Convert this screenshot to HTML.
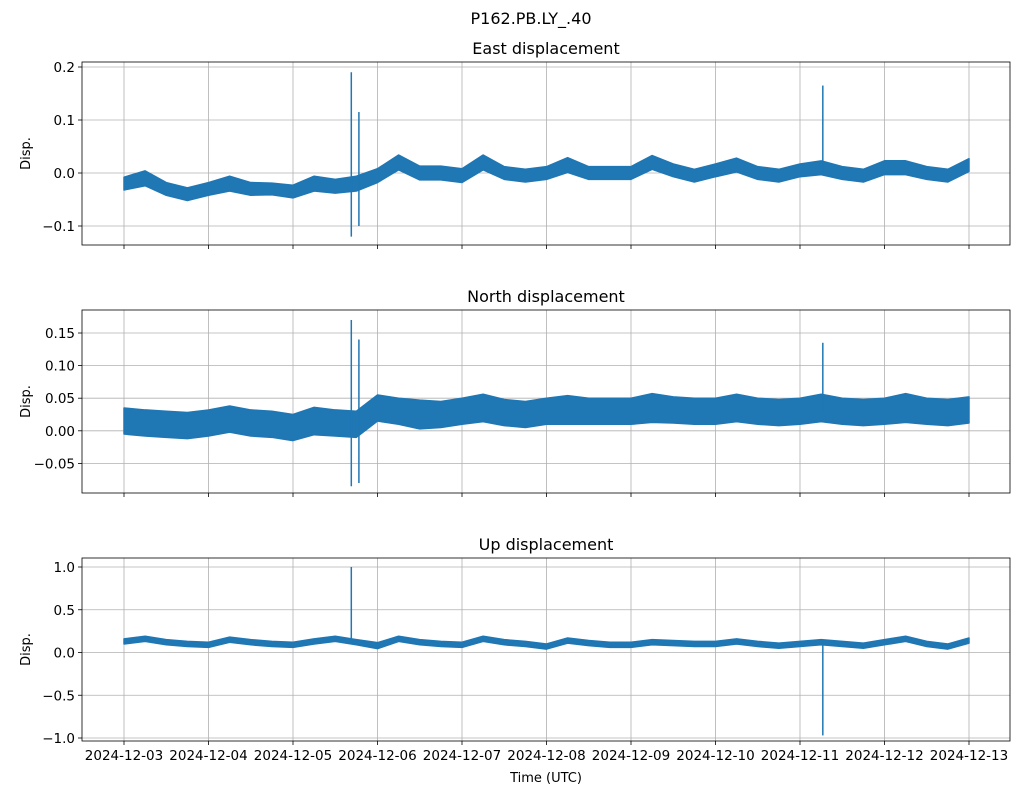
<!DOCTYPE html>
<html><head><meta charset="utf-8"><style>
body{margin:0;background:#fff;}
svg text{font-family:"DejaVu Sans","Liberation Sans",sans-serif;fill:#000;}
</style></head><body>
<svg id="fig" width="1021" height="795" viewBox="0 0 1021 795" xmlns="http://www.w3.org/2000/svg">
<rect width="1021" height="795" fill="#fff"/>
<text x="531" y="24" font-size="16" text-anchor="middle">P162.PB.LY_.40</text>
</svg>
<script>
// day offsets from 2024-12-03, step 0.25
const xTickLabels=["2024-12-03","2024-12-04","2024-12-05","2024-12-06","2024-12-07","2024-12-08","2024-12-09","2024-12-10","2024-12-11","2024-12-12","2024-12-13"];
const eastCenter=[-0.02,-0.01,-0.03,-0.04,-0.03,-0.02,-0.03,-0.03,-0.035,-0.02,-0.025,-0.02,-0.005,0.02,0.0,0.0,-0.005,0.02,0.0,-0.005,0.0,0.015,0.0,0.0,0.0,0.02,0.005,-0.005,0.005,0.015,0.0,-0.005,0.005,0.01,0.0,-0.005,0.01,0.01,0.0,-0.005,0.015];
const eastHalf=[0.012,0.014,0.012,0.012,0.012,0.014,0.012,0.011,0.012,0.014,0.013,0.014,0.013,0.014,0.013,0.013,0.013,0.014,0.012,0.012,0.012,0.014,0.012,0.012,0.012,0.013,0.012,0.012,0.012,0.013,0.012,0.012,0.012,0.013,0.012,0.012,0.013,0.013,0.012,0.012,0.012];
const eastSpikes=[[2.69,0.19,-0.12],[2.78,0.115,-0.10],[8.27,0.165,0.0]];
const northCenter=[0.015,0.012,0.01,0.008,0.012,0.018,0.012,0.01,0.005,0.015,0.012,0.01,0.035,0.03,0.025,0.025,0.03,0.035,0.028,0.025,0.03,0.032,0.03,0.03,0.03,0.035,0.032,0.03,0.03,0.035,0.03,0.028,0.03,0.035,0.03,0.028,0.03,0.035,0.03,0.028,0.032];
const northHalf=[0.02,0.02,0.02,0.02,0.02,0.02,0.02,0.02,0.02,0.021,0.02,0.02,0.02,0.02,0.022,0.02,0.02,0.021,0.02,0.02,0.02,0.022,0.02,0.02,0.02,0.022,0.02,0.02,0.02,0.021,0.02,0.02,0.02,0.021,0.02,0.02,0.02,0.022,0.02,0.02,0.02];
const northSpikes=[[2.69,0.17,-0.085],[2.78,0.14,-0.08],[8.27,0.135,0.03]];
const upCenter=[0.13,0.16,0.12,0.1,0.09,0.15,0.12,0.1,0.09,0.13,0.16,0.12,0.08,0.16,0.12,0.1,0.09,0.16,0.12,0.1,0.07,0.14,0.11,0.09,0.09,0.12,0.11,0.1,0.1,0.13,0.1,0.08,0.1,0.12,0.1,0.08,0.12,0.16,0.1,0.07,0.14];
const upHalf=[0.03,0.03,0.03,0.03,0.03,0.03,0.03,0.03,0.03,0.03,0.03,0.03,0.035,0.03,0.03,0.03,0.03,0.03,0.03,0.03,0.03,0.03,0.03,0.03,0.03,0.03,0.03,0.03,0.03,0.03,0.03,0.03,0.03,0.03,0.03,0.03,0.03,0.03,0.03,0.03,0.03];
const upSpikes=[[2.69,1.0,0.1],[8.27,0.1,-0.97]];
const eastTicks=[0.2,0.1,0.0,-0.1], eastTickLabels=["0.2","0.1","0.0","\u22120.1"];
const northTicks=[0.15,0.1,0.05,0,-0.05], northTickLabels=["0.15","0.10","0.05","0.00","\u22120.05"];
const upTicks=[1,0.5,0,-0.5,-1], upTickLabels=["1.0","0.5","0.0","\u22120.5","\u22121.0"];

const svg=document.getElementById('fig');
const NS='http://www.w3.org/2000/svg';
function mk(tag,attrs,parent){const e=document.createElementNS(NS,tag);for(const k in attrs)e.setAttribute(k,attrs[k]);(parent||svg).appendChild(e);return e;}
const X0=124,DAY=84.5,L=82,R=1010;
const xs=d=>X0+d*DAY;
function panel(name,title,top,yTop,yTopVal,yPerUnit,center,half,spikes,ticks,tickLabels,showX){
  const bot=top+183;
  const ys=v=>yTop+(yTopVal-v)*yPerUnit;
  const g=mk('g',{});
  
  
  const t=mk('text',{x:(L+R)/2,y:top-8,'font-size':16,'text-anchor':'middle'},g);t.textContent=title;
  
  xTickLabels.forEach((lab,i)=>{
    mk('line',{x1:xs(i),x2:xs(i),y1:top,y2:bot,stroke:'#b0b0b0','stroke-width':0.8},g);
    mk('line',{x1:xs(i),x2:xs(i),y1:bot,y2:bot+4,stroke:'#000','stroke-width':0.8},g);
    if(showX){const tt=mk('text',{x:xs(i),y:bot+19,'font-size':13.5,'text-anchor':'middle'},g);tt.textContent=lab;
      }
  });
  ticks.forEach((v,i)=>{
    mk('line',{x1:L,x2:R,y1:ys(v),y2:ys(v),stroke:'#b0b0b0','stroke-width':0.8},g);
    mk('line',{x1:L-4,x2:L,y1:ys(v),y2:ys(v),stroke:'#000','stroke-width':0.8},g);
    const tt=mk('text',{x:L-7,y:ys(v)+5,'font-size':13.5,'text-anchor':'end'},g);tt.textContent=tickLabels[i];
    
  });
  const yl=mk('text',{x:0,y:0,'font-size':13,'text-anchor':'middle',transform:`translate(30,${(top+bot)/2}) rotate(-90)`},g);
  yl.textContent='Disp.';
  let up=[],lo=[];
  center.forEach((c,i)=>{const d=i*0.25;up.push(xs(d)+','+ys(c+half[i]));lo.unshift(xs(d)+','+ys(c-half[i]));});
  const band=mk('polygon',{points:up.concat(lo).join(' '),fill:'#1f77b4',stroke:'#1f77b4','stroke-width':1.5,'stroke-linejoin':'round'},g);
  
  spikes.forEach(s=>{const sp=mk('line',{x1:xs(s[0]),x2:xs(s[0]),y1:ys(s[1]),y2:ys(s[2]),stroke:'#1f77b4','stroke-width':1.5},g);
    });
  mk('rect',{x:L,y:top,width:R-L,height:183,fill:'none',stroke:'#000','stroke-width':0.8},g);
}
panel('east','East displacement',62,67,0.2,530,eastCenter,eastHalf,eastSpikes,eastTicks,eastTickLabels,false);
panel('north','North displacement',310,333,0.15,652,northCenter,northHalf,northSpikes,northTicks,northTickLabels,false);
panel('up','Up displacement',558,567,1.0,85.5,upCenter,upHalf,upSpikes,upTicks,upTickLabels,true);
const xt=mk('text',{x:546,y:782,'font-size':13,'text-anchor':'middle'});xt.textContent='Time (UTC)';


</script>
</body></html>
